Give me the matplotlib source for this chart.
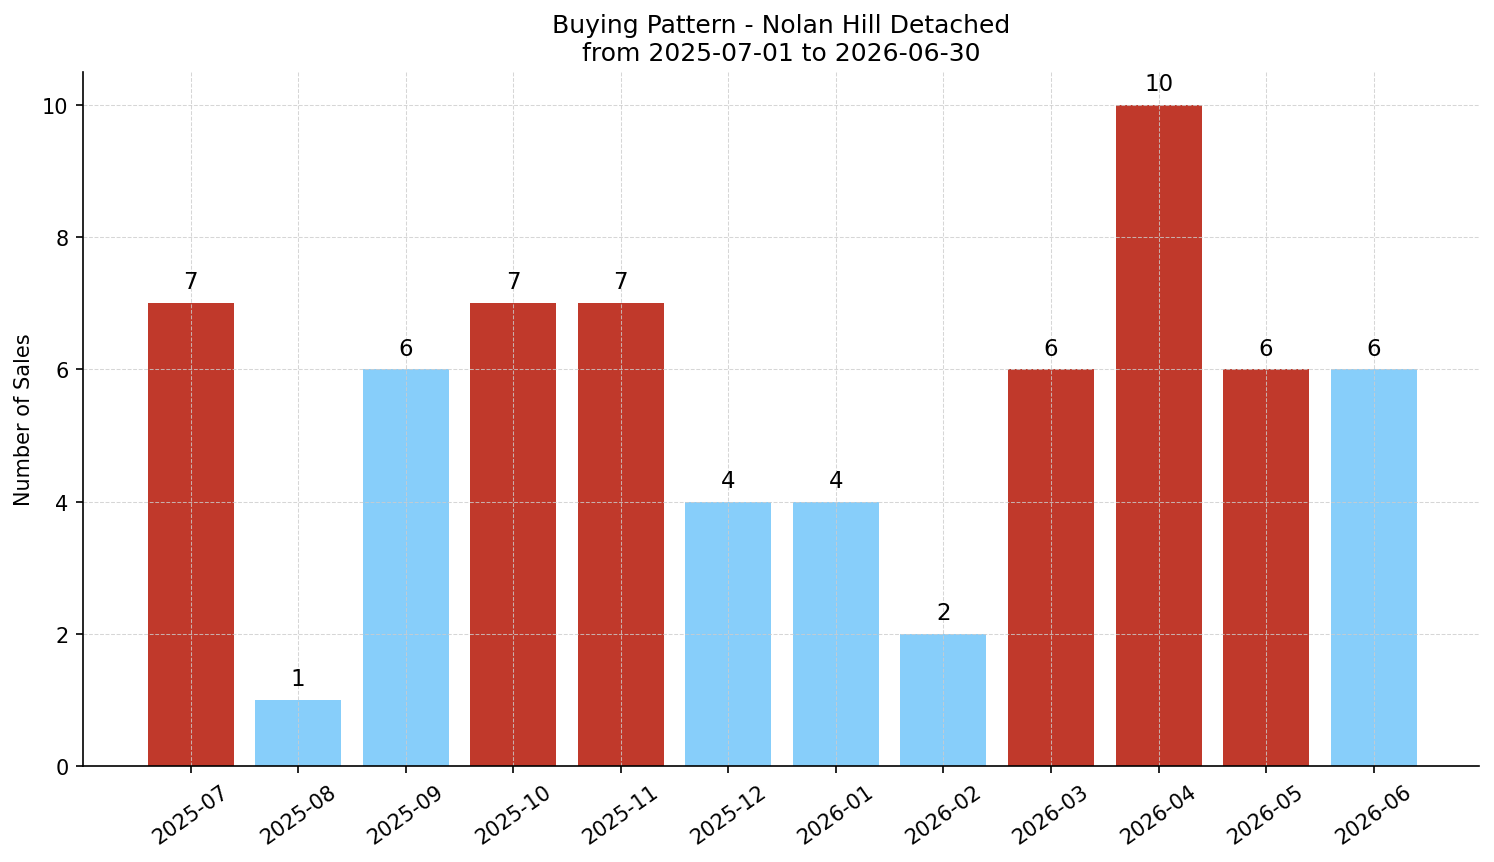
import matplotlib
matplotlib.use('Agg')
import matplotlib.pyplot as plt

months = ['2025-07', '2025-08', '2025-09', '2025-10', '2025-11', '2025-12',
          '2026-01', '2026-02', '2026-03', '2026-04', '2026-05', '2026-06']
sales = [7, 1, 6, 7, 7, 4, 4, 2, 6, 10, 6, 6]
bar_colors = ['#c0392b', '#87cefa', '#87cefa', '#c0392b', '#c0392b', '#87cefa',
              '#87cefa', '#87cefa', '#c0392b', '#c0392b', '#c0392b', '#87cefa']

fig, ax = plt.subplots(figsize=(9.96, 5.753), dpi=150)
bars = ax.bar(months, sales, color=bar_colors)
for b, v in zip(bars, sales):
    ax.text(b.get_x() + b.get_width() / 2, v + 0.15, str(v),
            ha='center', va='bottom', fontsize=11)

ax.set_title('Buying Pattern - Nolan Hill Detached\nfrom 2025-07-01 to 2026-06-30', fontsize=12)
ax.set_ylabel('Number of Sales')
ax.grid(True, linestyle='--', linewidth=0.5, color='#cccccc', alpha=0.8)
ax.spines['top'].set_visible(False)
ax.spines['right'].set_visible(False)
plt.xticks(rotation=35)
ax.set_ylim(0, 10.5)
ax.set_xlim(-1.0, 11.98)

plt.subplots_adjust(left=0.0556, right=0.99, top=0.9154, bottom=0.1112)
plt.savefig('out.png')
